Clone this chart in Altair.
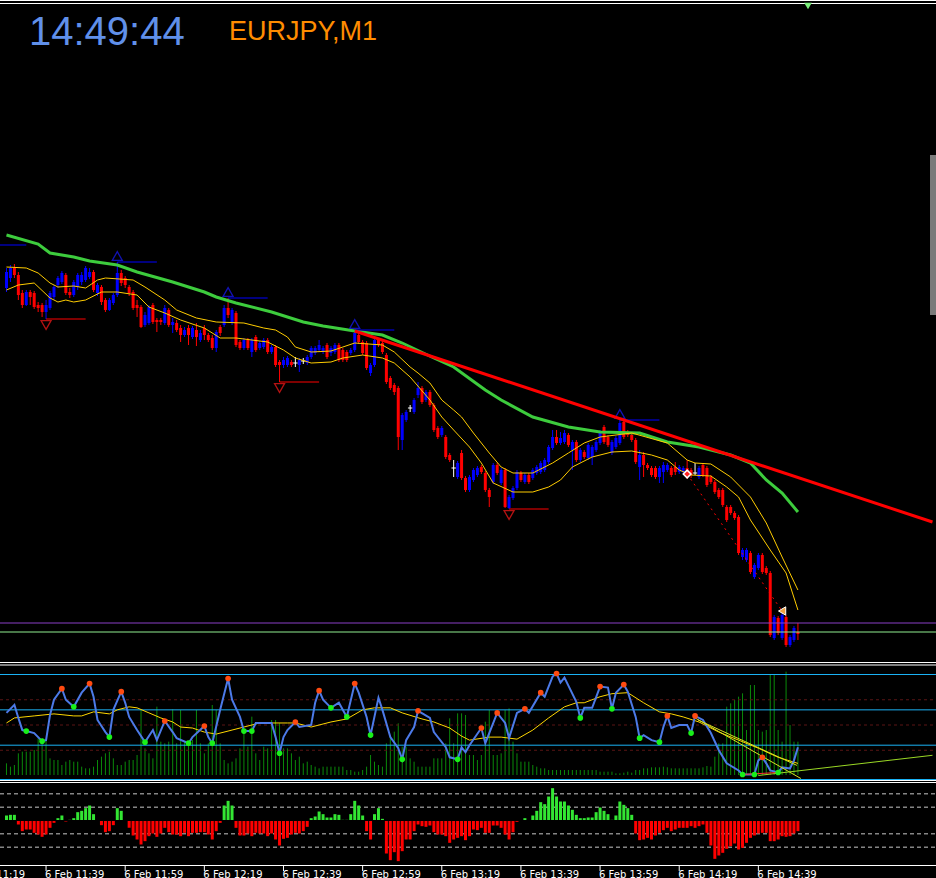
import altair as alt
import pandas as pd

# ---------------- data (prices in points above 162.000) ----------------
opens = [712,722,732,725,707,695,708,707,695,695,688,692,703,715,718,725,708,705,713,718,
720,723,728,707,713,700,690,697,705,727,722,713,708,695,693,675,677,695,680,680,
677,690,675,677,672,665,672,663,670,660,672,665,662,652,673,675,692,678,687,658,
652,660,648,663,652,653,660,648,653,638,635,635,638,637,635,639,637,643,647,650,
648,655,647,648,655,650,648,647,650,665,658,657,627,635,660,657,645,622,615,612,
560,580,592,588,605,612,600,608,595,572,565,563,545,532,523,547,522,510,520,525,
533,527,510,518,535,517,530,492,502,512,527,518,525,522,527,528,530,538,552,563,
557,558,565,550,558,540,548,542,543,550,557,573,563,547,553,557,578,568,565,560,
533,545,535,532,532,523,528,530,532,533,528,528,532,530,527,523,535,532,523,518,
510,510,493,493,487,483,443,440,447,423,432,445,432,427,362,382,362,383,355,360,368]
closes = [728,732,725,705,695,708,703,693,692,688,695,707,713,722,727,707,705,718,725,725,
732,728,710,715,698,690,700,705,727,717,715,707,692,692,673,685,693,678,678,678,
692,675,678,670,665,670,665,672,663,667,665,660,652,668,667,692,685,690,655,652,
660,652,660,650,657,660,648,653,635,635,640,642,635,637,640,639,643,652,652,655,
652,643,652,655,640,640,640,650,667,658,647,632,635,660,655,648,618,612,608,563,
585,588,592,600,612,598,608,595,570,563,572,543,540,532,537,522,510,523,530,532,
528,510,503,535,527,530,493,503,512,528,520,525,518,530,533,537,540,553,563,557,
562,567,555,558,540,550,543,555,553,558,568,558,555,558,562,577,563,565,560,538,
545,535,532,525,523,532,535,535,525,528,533,532,523,525,527,532,525,515,518,508,
503,495,480,487,482,447,450,450,428,435,445,428,427,365,383,367,385,355,363,372,366]
highs = [732,735,736,728,710,710,710,709,698,697,700,709,715,724,729,727,712,720,727,728,
734,732,730,717,715,702,702,707,738,730,724,715,710,700,695,688,695,697,682,682,
695,692,682,680,675,673,675,674,677,670,675,667,665,670,675,695,702,692,689,660,
662,662,662,665,659,662,662,655,655,640,643,644,640,643,642,642,645,654,654,660,
654,657,654,657,657,652,650,652,670,667,660,659,637,662,662,659,647,624,617,614,
587,590,595,602,618,614,610,610,597,574,574,565,547,540,539,550,524,525,532,534,
535,529,512,537,537,532,532,505,514,530,529,527,527,532,535,539,542,555,570,570,
568,570,567,560,560,552,550,557,555,560,570,575,565,560,564,580,580,570,567,562,
550,548,537,534,534,534,538,537,534,538,535,534,540,532,537,534,537,534,525,520,
512,512,495,495,489,485,452,452,449,437,447,447,434,429,385,384,387,385,365,374,377]
lows = [708,718,722,700,692,694,695,691,688,683,681,690,700,712,716,705,702,703,710,715,
718,721,708,704,695,688,689,695,703,714,712,704,690,683,672,673,675,676,668,675,
675,673,667,668,658,663,655,661,654,658,660,658,650,648,664,673,682,675,653,650,
650,650,643,648,650,651,646,646,633,618,632,633,633,633,628,636,635,641,645,648,
646,641,644,646,638,638,638,645,648,656,645,630,624,633,653,646,616,610,605,550,
550,578,588,586,602,596,598,593,568,561,563,541,538,523,521,520,508,508,518,523,
526,508,493,516,525,515,492,491,500,510,518,516,516,520,525,526,528,536,550,555,
555,556,553,530,538,538,541,540,535,548,555,556,553,545,551,555,561,563,558,536,
520,523,530,523,521,517,517,528,523,525,526,526,521,522,525,521,523,513,516,506,
501,493,478,485,480,445,440,438,426,421,430,426,425,363,360,365,360,353,353,358,360]

# moving averages (bar index, points)
ma_green_i = [0,8,11,17,21,28,33,42,50,53,58,67,75,80,88,95,100,108,113,121,125,133,142,150,160,167,175,183,188,192,196,200]
ma_green_p = [765,756,747,743,739,735,728,718,708,703,697,688,678,674,669,665,657,642,633,610,600,583,573,568,567,558,553,545,537,520,507,488]
band_up_i = [0,5,8,11,13,17,20,23,25,32,35,40,43,48,53,60,65,68,71,73,77,82,85,88,95,98,102,104,107,110,113,115,118,122,125,128,133,138,142,146,150,158,167,172,174,178,183,188,192,196,200]
band_up_p = [733,732,727,717,713,714,712,720,722,720,713,700,690,682,678,677,672,670,663,653,648,649,653,657,655,648,633,627,617,600,590,583,567,547,533,527,527,537,547,557,563,567,557,540,537,536,523,503,477,443,410]
band_lo_i = [0,3,7,11,13,15,17,20,24,28,33,36,40,44,50,54,58,66,70,73,77,82,85,90,95,98,102,107,110,113,117,120,123,128,133,137,140,143,148,153,158,163,167,170,173,178,182,185,188,193,197,200]
band_lo_p = [710,715,717,702,698,700,698,700,708,708,705,693,687,680,672,662,662,658,650,642,637,638,642,645,642,637,623,600,583,570,553,537,517,508,508,513,520,533,543,548,549,545,540,530,525,524,513,503,480,450,427,390]

frac_up_i = [-5, 28, 56, 88, 155]
frac_up_p = [755, 738, 702, 670, 580]
frac_dn_i = [10, 69, 127]
frac_dn_p = [681, 618, 491]

trend_i = [88, 234]
trend_p = [669, 478]
dotted_i = [172, 196]
dotted_p = [526, 389]

# oscillator
osc_i = [0,2,3,4,5,7,9,10,11,12,14,15,17,19,21,22,23,25,26,27,29,30,31,33,35,37,38,40,42,43,46,47,50,51,52,54,56,57,59,60,
62,63,67,68,69,70,71,73,74,77,78,79,80,82,84,86,88,89,91,92,94,95,97,99,100,101,103,104,107,108,111,112,114,115,116,117,
120,121,124,126,127,129,131,132,135,136,138,139,140,141,144,145,146,148,150,152,153,154,156,157,159,160,161,163,165,166,
167,168,170,172,173,174,176,178,180,182,185,186,189,190,191,192,193,195,196,198,199,200]
osc_v = [62,70,57,45,44,42,34,35,60,75,86,75,68,82,91,78,55,43,38,65,83,72,58,45,33,45,35,54,43,37,32,38,49,38,32,65,96,75,58,44,
44,52,52,38,22,38,45,53,48,50,72,84,75,67,72,58,91,82,58,40,77,65,38,27,16,35,48,64,57,43,28,18,16,28,23,30,
47,32,62,52,37,62,66,62,82,78,98,101,92,97,73,57,67,67,88,87,66,82,90,83,58,37,40,35,33,48,
59,47,50,50,42,59,55,42,25,12,5,1,1,15,18,12,5,3,8,7,15,28]
peak_i = [14,21,29,40,50,56,73,79,88,104,120,124,131,135,139,150,156,167,174,191]
trough_i = [5,9,17,26,35,46,52,60,62,69,82,86,92,100,114,145,153,160,165,173,186,189,195]
sig_i = [0,2,7,12,17,19,22,26,28,31,33,36,39,42,44,47,50,53,57,60,64,67,71,73,77,82,86,90,93,97,100,105,108,112,115,117,122,125,129,133,
137,141,144,146,150,153,157,161,165,168,171,175,180,185,190,195,200]
sig_v = [52,57,59,61,59,59,63,61,65,68,67,62,57,53,48,47,43,41,45,48,52,52,52,52,48,53,56,65,67,67,62,56,53,47,39,35,38,38,36,45,
57,68,72,72,78,81,82,72,63,61,58,53,43,35,27,18,12]
osc_levels = [100, 65, 30]
osc_dots = [75, 50, 25]

volume = [35,25,30,65,70,70,70,75,110,110,105,50,45,45,30,40,45,40,40,25,
20,20,25,45,55,65,70,50,30,30,40,45,45,60,195,80,65,50,205,100,
95,100,197,95,195,100,95,105,195,95,65,95,210,195,95,45,35,40,50,80,
130,85,175,65,45,85,80,165,165,155,80,80,65,45,55,35,40,30,25,20,
25,25,25,25,25,25,15,15,10,10,15,25,60,40,30,25,95,115,130,155,
85,85,50,40,25,25,25,25,50,50,50,95,170,95,185,185,180,60,60,45,
60,160,195,60,60,65,195,200,100,65,40,40,40,30,25,20,20,15,15,15,
15,15,15,15,15,15,15,15,15,15,10,10,10,10,5,5,7,10,7,15,
15,20,20,23,23,23,25,23,20,20,20,20,20,20,20,20,23,27,25,55,
95,95,205,215,225,235,245,135,270,270,135,130,135,300,300,135,100,310,150,100,100]

hist = [15,17,17,-12,-32,-27,-27,-37,-42,-49,-42,-22,-7,7,15,-3,2,7,25,29,
37,45,19,0,-14,-35,-32,-14,37,29,0,-22,-45,-57,-72,-62,-47,-39,-49,-39,
-22,-35,-42,-42,-47,-37,-47,-37,-37,-35,-35,-42,-57,-32,-7,45,59,45,-22,-45,
-45,-39,-47,-37,-39,-39,-47,-39,-57,-75,-55,-52,-42,-37,-39,-32,-19,7,12,27,
19,9,9,19,17,2,2,19,59,45,15,-32,-57,19,37,5,-99,-119,-95,-122,
-92,-57,-57,-32,-12,-17,-19,-15,-35,-42,-42,-47,-67,-57,-52,-47,-59,-47,-27,-29,
-22,-37,-37,-15,-15,-22,-42,-57,-35,-4,0,7,0,15,29,55,49,72,97,72,
57,57,45,32,17,7,7,9,9,25,39,29,19,2,15,57,47,37,17,-39,
-59,-57,-52,-57,-45,-37,-29,-22,-32,-27,-22,-22,-22,-17,-22,-17,-12,-37,-75,-115,
-105,-97,-85,-77,-69,-87,-82,-67,-52,-45,-39,-37,-37,-62,-62,-57,-47,-49,-47,-39,-32]
hist_levels = [80, 40, -40, -80]

tick_idx = [-10, 10, 30, 50, 70, 90, 110, 130, 150, 170, 190]
tick_lab = ["6 Feb 11:19", "6 Feb 11:39", "6 Feb 11:59", "6 Feb 12:19", "6 Feb 12:39", "6 Feb 12:59",
            "6 Feb 13:19", "6 Feb 13:39", "6 Feb 13:59", "6 Feb 14:19", "6 Feb 14:39"]

BASE = 162.0
def pr(pts):
    return [round(BASE + v / 1000.0, 3) for v in pts]

# ---------------- scales ----------------
XS = alt.Scale(domain=[-0.375, 233.625], nice=False, zero=False)
MAIN = alt.Scale(domain=[162.338, 162.996], range=[662, 4], nice=False, zero=False)
OSC = alt.Scale(domain=[0, 100], range=[775.5, 674.5], nice=False, zero=False)
VOL = alt.Scale(domain=[0, 300], range=[775, 675], nice=False, zero=False)
HIST = alt.Scale(domain=[-100, 100], range=[853.83, 787.17], nice=False, zero=False)
CCOL = alt.Scale(domain=["up", "down", "doji"], range=["#0000ff", "#ff0000", "#ffffff"])

def X(f="i"):
    return alt.X(f + ":Q", scale=XS, axis=None)

def Y(f, s):
    return alt.Y(f + ":Q", scale=s, axis=None)

n = len(opens)
cdf = pd.DataFrame({"i": list(range(n)), "o": pr(opens), "c": pr(closes), "h": pr(highs), "l": pr(lows)})
cdf["dir"] = ["up" if c > o else ("down" if c < o else "doji") for o, c in zip(cdf.o, cdf.c)]
cdf["a"] = cdf.i - 0.55
cdf["b"] = cdf.i + 0.55

dummy = pd.DataFrame({"k": [0]})
layers = []

def hline(y, color, width=1, dash=None):
    kw = dict(color=color, strokeWidth=width)
    if dash:
        kw["strokeDash"] = dash
    return alt.Chart(dummy).mark_rule(**kw).encode(x=alt.value(0), x2=alt.value(936), y=alt.value(y))

# ---------- main panel ----------
layers.append(alt.Chart(cdf).mark_rule(strokeWidth=1).encode(
    x=X(), y=Y("l", MAIN), y2="h:Q", color=alt.Color("dir:N", scale=CCOL, legend=None)))
layers.append(alt.Chart(cdf).transform_filter("datum.dir != 'doji'").mark_bar(size=3).encode(
    x=X(), y=Y("o", MAIN), y2="c:Q", color=alt.Color("dir:N", scale=CCOL, legend=None)))
layers.append(alt.Chart(cdf).transform_filter("datum.dir == 'doji'").mark_rule(color="#ffffff", strokeWidth=1).encode(
    x=X("a"), x2="b:Q", y=Y("o", MAIN)))

lv = pd.DataFrame({"p": pr([377])})
layers.append(alt.Chart(lv).mark_rule(color="#8a3fc6", strokeWidth=1).encode(
    x=alt.value(0), x2=alt.value(936), y=Y("p", MAIN)))
lv2 = pd.DataFrame({"p": pr([368])})
layers.append(alt.Chart(lv2).mark_rule(color="#90ee90", strokeWidth=1).encode(
    x=alt.value(0), x2=alt.value(936), y=Y("p", MAIN)))

gdf = pd.DataFrame({"i": ma_green_i, "p": pr(ma_green_p)})
layers.append(alt.Chart(gdf).mark_line(color="#3dcc3d", strokeWidth=3).encode(x=X(), y=Y("p", MAIN)))
udf = pd.DataFrame({"i": band_up_i, "p": pr(band_up_p)})
layers.append(alt.Chart(udf).mark_line(color="#ffcc00", strokeWidth=1).encode(x=X(), y=Y("p", MAIN)))
ldf = pd.DataFrame({"i": band_lo_i, "p": pr(band_lo_p)})
layers.append(alt.Chart(ldf).mark_line(color="#ffcc00", strokeWidth=1).encode(x=X(), y=Y("p", MAIN)))

fu = pd.DataFrame({"i": frac_up_i, "p": pr(frac_up_p)})
fu["i2"] = fu.i + 10
layers.append(alt.Chart(fu).mark_rule(color="#0000ff", strokeWidth=1).encode(x=X(), x2="i2:Q", y=Y("p", MAIN)))
layers.append(alt.Chart(fu).mark_point(shape="triangle-up", filled=False, color="#1a1aff", size=100,
                                       strokeWidth=1.3, yOffset=-6).encode(x=X(), y=Y("p", MAIN)))
fd = pd.DataFrame({"i": frac_dn_i, "p": pr(frac_dn_p)})
fd["i2"] = fd.i + 10
layers.append(alt.Chart(fd).mark_rule(color="#ff0000", strokeWidth=1).encode(x=X(), x2="i2:Q", y=Y("p", MAIN)))
layers.append(alt.Chart(fd).mark_point(shape="triangle-down", filled=False, color="#ff1a1a", size=100,
                                       strokeWidth=1.3, yOffset=6).encode(x=X(), y=Y("p", MAIN)))

tdf = pd.DataFrame({"i": trend_i, "p": pr(trend_p)})
layers.append(alt.Chart(tdf).mark_line(color="#ff0000", strokeWidth=3).encode(x=X(), y=Y("p", MAIN)))
ddf = pd.DataFrame({"i": dotted_i, "p": pr(dotted_p)})
layers.append(alt.Chart(ddf).mark_line(color="#ff0000", strokeWidth=1, strokeDash=[2, 4]).encode(x=X(), y=Y("p", MAIN)))

mk1 = pd.DataFrame({"i": [172], "p": pr([526])})
layers.append(alt.Chart(mk1).mark_point(shape="diamond", filled=True, fill="#ff2020", stroke="#ffffff",
                                        strokeWidth=1.5, size=60, opacity=1).encode(x=X(), y=Y("p", MAIN)))
mk2 = pd.DataFrame({"i": [196], "p": pr([389])})
layers.append(alt.Chart(mk2).mark_point(shape="triangle-left", filled=True, fill="#f0a040", stroke="#ffffff",
                                        strokeWidth=1, size=70, opacity=1).encode(x=X(), y=Y("p", MAIN)))

# ---------- oscillator panel ----------
vdf = pd.DataFrame({"i": list(range(len(volume))), "v": volume, "z": [0] * len(volume)})
layers.append(alt.Chart(vdf).mark_rule(color="#0a8a0a", strokeWidth=1).encode(x=X(), y=Y("z", VOL), y2="v:Q"))

oll = pd.DataFrame({"v": osc_levels})
layers.append(alt.Chart(oll).mark_rule(color="#1ab2f5", strokeWidth=1).encode(
    x=alt.value(0), x2=alt.value(936), y=Y("v", OSC)))
odl = pd.DataFrame({"v": osc_dots})
layers.append(alt.Chart(odl).mark_rule(color="#5a1414", strokeWidth=1, strokeDash=[3, 3]).encode(
    x=alt.value(0), x2=alt.value(936), y=Y("v", OSC)))

sdf = pd.DataFrame({"i": sig_i, "v": sig_v})
layers.append(alt.Chart(sdf).mark_line(color="#ffd700", strokeWidth=1).encode(x=X(), y=Y("v", OSC)))

odf = pd.DataFrame({"i": osc_i, "v": osc_v})
layers.append(alt.Chart(odf).mark_line(color="#4c7ae8", strokeWidth=2).encode(x=X(), y=Y("v", OSC)))

lA = pd.DataFrame({"i": [174, 200.75], "v": [57, -3]})
layers.append(alt.Chart(lA).mark_line(color="#d8e020", strokeWidth=1).encode(x=X(), y=Y("v", OSC)))
lB = pd.DataFrame({"i": [174.75, 199.75], "v": [55, 10]})
layers.append(alt.Chart(lB).mark_line(color="#d8e020", strokeWidth=1).encode(x=X(), y=Y("v", OSC)))
lC = pd.DataFrame({"i": [190, 234], "v": [0, 20]})
layers.append(alt.Chart(lC).mark_line(color="#9ad825", strokeWidth=1).encode(x=X(), y=Y("v", OSC)))
lD = pd.DataFrame({"i": [186, 195], "v": [1, 3]})
layers.append(alt.Chart(lD).mark_line(color="#ff3030", strokeWidth=1).encode(x=X(), y=Y("v", OSC)))

vmap = dict(zip(osc_i, osc_v))
pk = pd.DataFrame({"i": peak_i, "v": [vmap[k] for k in peak_i]})
layers.append(alt.Chart(pk).mark_circle(color="#ff4a10", size=32, opacity=1).encode(x=X(), y=Y("v", OSC)))
tr = pd.DataFrame({"i": trough_i, "v": [vmap[k] for k in trough_i]})
layers.append(alt.Chart(tr).mark_circle(color="#19f019", size=32, opacity=1).encode(x=X(), y=Y("v", OSC)))

# ---------- histogram panel ----------
hl = pd.DataFrame({"v": hist_levels})
layers.append(alt.Chart(hl).mark_rule(color="#c8c8c8", strokeWidth=1, strokeDash=[4, 3]).encode(
    x=alt.value(0), x2=alt.value(936), y=Y("v", HIST)))
hdf = pd.DataFrame({"i": list(range(len(hist))), "v": hist, "z": [0] * len(hist)})
layers.append(alt.Chart(hdf).transform_filter("datum.v > 0").mark_bar(size=3, color="#33e633", y2Offset=-0.5).encode(
    x=X(), y=Y("v", HIST), y2="z:Q"))
layers.append(alt.Chart(hdf).transform_filter("datum.v < 0").mark_bar(size=3, color="#ff0000", y2Offset=0.5).encode(
    x=X(), y=Y("v", HIST), y2="z:Q"))

# ---------- frames ----------
for yy in [0.5, 3.5, 662.5, 665.0, 780.5, 782.5, 865.5]:
    layers.append(hline(yy, "#ffffff"))
layers.append(hline(779.5, "#1ab2f5"))

tdf2 = pd.DataFrame({"i": tick_idx, "lab": tick_lab})
layers.append(alt.Chart(tdf2).mark_rule(color="#ffffff", strokeWidth=1).encode(
    x=X(), y=alt.value(866), y2=alt.value(871)))
layers.append(alt.Chart(tdf2).mark_text(align="left", baseline="alphabetic", font="DejaVu Sans",
                                        fontSize=10, color="#ffffff", dx=-1).encode(
    x=X(), y=alt.value(877.5), text="lab:N"))

layers.append(alt.Chart(dummy).mark_text(text="14:49:44", align="left", baseline="alphabetic",
                                         font="Liberation Sans", fontSize=40, color="#6090ea").encode(
    x=alt.value(29), y=alt.value(45)))
layers.append(alt.Chart(dummy).mark_text(text="EURJPY,M1", align="left", baseline="alphabetic",
                                         font="Liberation Sans", fontSize=27, color="#ff8c00").encode(
    x=alt.value(229), y=alt.value(40)))
layers.append(alt.Chart(dummy).mark_rect(color="#7a7a7a").encode(
    x=alt.value(930), x2=alt.value(936), y=alt.value(155), y2=alt.value(315)))
layers.append(alt.Chart(dummy).mark_point(shape="triangle-down", filled=True, color="#7cf07c", size=60, opacity=1).encode(
    x=alt.value(808), y=alt.value(6)))

chart = alt.layer(*layers).resolve_scale(y="independent").properties(
    width=936, height=878, background="#000000", padding=0,
    autosize=alt.AutoSizeParams(type="none"),
).configure_view(stroke=None)

chart.save("out.html", embed_options={"renderer": "svg", "actions": False})
